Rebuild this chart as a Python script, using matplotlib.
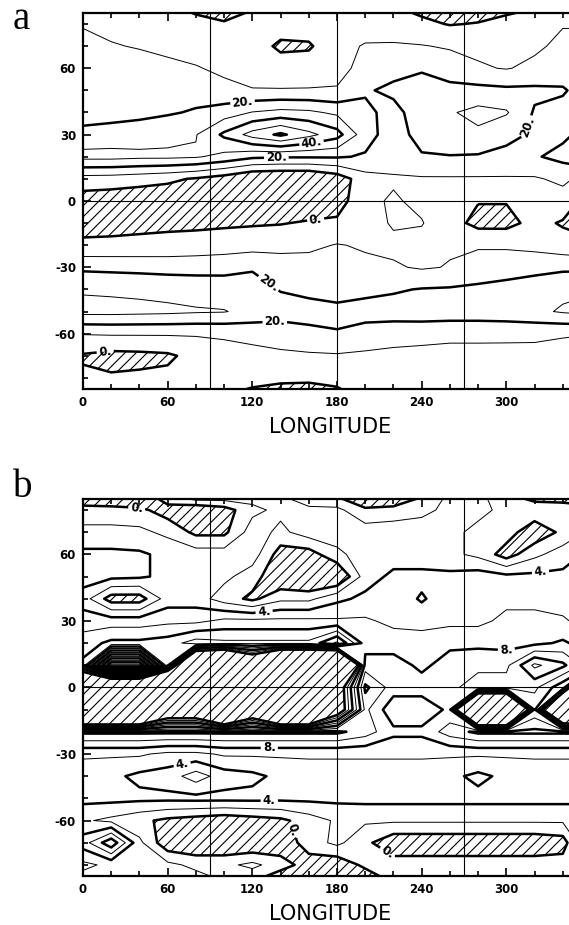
import numpy as np
import matplotlib.pyplot as plt

plt.rcParams['axes.unicode_minus'] = False
plt.rcParams['hatch.linewidth'] = 0.8

# ============================================================
# Grid
# ============================================================
LON = np.arange(0, 361, 20)
LAT = np.array([85, 80, 70, 60, 50, 40, 30, 20, 10, 0,
                -10, -20, -30, -40, -50, -60, -70, -80, -85])

# panel a : one row per latitude, one column per longitude
FIELD_A = np.array([
    [6, 5, 4, 3, -0.5, -3, 1, 4, 5, 5, 4, 2, -1, -3, -3, -1, 2, 5, 6],
    [9.5, 8, 6.5, 5, 3, 1, 3, 5, 6, 7, 7, 5, 2, -0.5, 0.5, 4, 7, 9.5, 9.5],
    [12, 10.5, 9.5, 8, 7, 6, 5, -2, -1.5, 8, 10.5, 11, 10.5, 9, 8, 8, 8.5, 12, 12],
    [14, 13.5, 13, 12, 10.5, 8.5, 6, 5, 6, 8, 12, 17, 19, 15, 11, 9.5, 12, 15, 14],
    [15, 15.5, 16, 16.5, 16, 12, 10.5, 10.5, 10.5, 10.5, 19, 22, 24, 23, 23, 22, 22, 21, 15],
    [14, 15.5, 17, 19, 21, 25, 30.5, 33, 32, 28, 22, 17, 25, 29, 33, 31, 19, 17, 14],
    [24, 25, 26, 27, 29.5, 42, 54, 62, 53, 44, 24, 15, 24, 27, 28, 22, 19, 18, 24],
    [33, 33, 32, 32, 31, 27, 22, 21, 21, 21, 19, 14, 19, 19.5, 19, 18, 19, 23, 33],
    [6, 5.5, 4, 2, -1, -5, -11, -12, -12, -6, 6, 9, 9, 9, 9, 9, 9, 12, 6],
    [-5, -6, -7, -7, -7, -7, -7, -7, -7, -5, 8, 11, 8, 4, 0.5, 0.5, 4, 6, -5],
    [-3, -3, -2.5, -2, -2, -1.5, -1, -0.5, 1, 2, 6, 11, 10.5, 4, -3, -3, 3, -1, -3],
    [1.6, 2, 2.5, 3, 4, 5, 6, 7, 8, 10.5, 9, 8, 7, 9, 9, 8.5, 7, 4, 1.6],
    [18, 17.5, 17, 16.5, 16.5, 17, 19, 15, 14, 13, 12, 11, 9, 10.5, 14, 16, 17, 18, 18],
    [29, 28.5, 28, 27, 26, 25, 24, 19.5, 18, 17, 18, 19, 20.5, 21, 22, 23, 25, 28, 29],
    [33, 33, 32.5, 32, 31, 30.5, 27, 24, 23, 22, 23, 24, 25, 25, 25, 26, 28, 31, 33],
    [10.5, 11, 11, 11, 11, 11.5, 13, 15, 18, 19.5, 17, 15, 14, 13, 13, 12.5, 12, 11, 10.5],
    [-1, -3, -2.5, -1.5, 3, 6, 7, 8, 8.5, 9, 8, 7, 6.5, 6, 6, 6.5, 7, 6, -1],
    [1.5, 1, 1.5, 2, 3, 4, 3, 2, 1.5, 2, 3, 4, 5, 5, 5, 5, 5, 4, 1.5],
    [3, 3, 3, 3, 3, 2, -0.5, -2, -2, -0.5, 3, 4, 4, 4, 4, 4, 4, 4, 3],
])

# panel b
FIELD_B = np.array([
    [-1.5, -2, -2, 1, 2.5, 2.5, 2.5, 2.5, 1, 0.5, -2, -2, 0.5, 2.5, 2.5, 1, -0.5, -0.5, -1.5],
    [1, 1, 0.5, -1, -2, -1, 1.5, 2.5, 2.5, 2.5, 0.5, 1, 1.5, 2.5, 2.5, 1.5, 1.5, 1, 1],
    [2.5, 2.5, 2.5, 1.5, -0.5, -0.5, 3, 1.5, 3, 3, 3, 3, 3, 2.5, 1.5, 1, -1.5, 0.5, 2.5],
    [4.5, 4.5, 4.3, 3.5, 3, 3, 3, -1, -1, 1.5, 3, 3, 3, 2.5, 1.5, -1, 1.5, 3, 4.5],
    [5, 4.5, 4.3, 3.5, 3, 2.5, 1, -2, -3, -2.5, 3, 4.5, 4.5, 4.5, 5, 4.5, 4.5, 4.5, 5],
    [3, -1, -1, 3, 3, 1, -0.5, 1.5, 1.5, 3.5, 4.5, 5, 3.8, 5, 5, 5.5, 5.5, 5, 3],
    [5, 5, 5, 5.5, 5.5, 6.5, 6.5, 6.5, 6.5, 6.3, 6.3, 5.5, 5, 5.5, 5.5, 6.5, 6.5, 6.3, 5],
    [7, 8.5, 8.5, 9, 11, 10.5, 10.5, 10.5, 10.5, 14.5, 7, 7, 7.3, 7.5, 7.5, 7.3, 7.5, 8.3, 7],
    [8.5, 31, 31, 8.5, -20, -25, -10, -25, -25, -30, 9, 9, 7.5, 9, 9.5, 9.5, 14.5, 12.5, 8.5],
    [-20, -20, -20, -25, -25, -25, -25, -25, -25, -4, 12.5, 9, 9, 9.5, 11, 11, 10.5, 6.5, -20],
    [-25, -25, -25, -8, -8, -25, -8, -25, -25, -4, 10.5, 6.5, 6.5, 8.5, -30, -30, 8.5, -20, -25],
    [12.5, 12.5, 12.5, 12.5, 12.5, 12.5, 12.5, 12.5, 12.5, 12.5, 11, 8.5, 8.5, 11, 12.5, 12.5, 12.5, 12.5, 12.5],
    [6.3, 6.3, 6.3, 5.5, 5.5, 6.3, 6.3, 6.3, 6.3, 6.3, 6.3, 6.3, 6.3, 6.3, 6.3, 6.3, 6.3, 6.3, 6.3],
    [5, 4.5, 3.5, 3, 1, 3, 3.5, 4.5, 5, 5, 5, 5, 5, 4.5, 3.5, 4.5, 5, 5, 5],
    [4.6, 4.6, 4.5, 4.5, 4.6, 4.6, 4.6, 4.5, 4.5, 4.5, 4.6, 4.6, 4.6, 4.6, 4.6, 4.6, 4.6, 4.6, 4.6],
    [2.3, 1.5, 0.5, -0.5, -1, -1.5, -1, -0.5, 1, 2.3, 2.3, 2.3, 2.3, 2.3, 2.3, 2.3, 2.3, 2.3, 2.3],
    [5, 9.5, 2.5, -1.5, -2, -2, -2, -1.5, 1, 2.5, 0.5, -1.5, -1.5, -1.5, -1.5, -1.5, -1.5, -1, 5],
    [1.5, 2.5, 2.5, 2.5, 1.5, 1.5, 2.5, 1, -1, -1.5, 0.5, 1, 1, 1, 1, 1, 1, 1, 1.5],
    [2.5, 2.5, 2.5, 2.5, 2.5, 1.5, 1, -1, -2, -2, -1, 1, 1.5, 1.5, 1.5, 1.5, 1.5, 1.5, 2.5],
])

THIN_A = [10, 30, 50]
THICK_A = [0, 20, 40, 60]
THIN_B = list(range(2, 40, 4))
THICK_B = list(range(0, 40, 4))

# where the inline labels sit (lon, lat)
LABELS_A = [(113, 45), (162, 26), (137, 20), (165, -9), (135, -34),
            (136, -56), (16, -70), (312, 34)]
LABELS_B = [(38, 80), (128, 36), (324, 53), (300, 16), (132, -26),
            (72, -40), (132, -51), (215, -75), (150, -64)]

XTICKS = [0, 60, 120, 180, 240, 300, 360]
XTICKLABELS = ['0', '60', '120', '180', '240', '300', '']
YTICKS = [-60, -30, 0, 30, 60]


# ============================================================
# Drawing
# ============================================================
def draw_panel(ax, field, thin, thick, labels):
    ax.contourf(LON, LAT, field, levels=[-1000, 0], colors='none',
                hatches=['///'])
    ax.contour(LON, LAT, field, levels=thin, colors='k', linewidths=0.7)
    cs = ax.contour(LON, LAT, field, levels=thick, colors='k',
                    linewidths=1.8)
    txt = ax.clabel(cs, fmt='%1.0f.', fontsize=8.5, manual=labels,
                    inline=True, inline_spacing=3)
    for t in txt:
        t.set_fontweight('bold')

    for x in (90, 180, 270):
        ax.axvline(x, color='k', lw=0.8)
    ax.axhline(0, color='k', lw=0.8)

    ax.set_xlim(0, 360)
    ax.set_ylim(-85, 85)
    ax.set_xticks(XTICKS)
    ax.set_xticklabels(XTICKLABELS)
    ax.set_xticks(np.arange(0, 361, 20), minor=True)
    ax.set_yticks(YTICKS)
    ax.set_yticks(np.arange(-80, 81, 10), minor=True)
    ax.tick_params(which='both', direction='in', top=True, right=True,
                   width=1.2)
    ax.tick_params(which='major', length=6, labelsize=8.5, pad=5)
    ax.tick_params(which='minor', length=3.5)
    for lab in ax.get_xticklabels() + ax.get_yticklabels():
        lab.set_fontweight('bold')
    for s in ax.spines.values():
        s.set_linewidth(1.6)
    ax.set_xlabel('LONGITUDE', fontsize=15, labelpad=3)
    ax.xaxis.set_label_coords(0.486, -0.075)


fig = plt.figure(figsize=(5.69, 9.25), dpi=100)
ax_a = fig.add_axes([0.1459, 0.5795, 0.8928, 0.4065])
ax_b = fig.add_axes([0.1459, 0.0530, 0.8928, 0.4076])

draw_panel(ax_a, FIELD_A, THIN_A, THICK_A, LABELS_A)
draw_panel(ax_b, FIELD_B, THIN_B, THICK_B, LABELS_B)

fig.text(0.023, 0.9686, 'a', fontsize=28, family='Liberation Serif',
         va='baseline')
fig.text(0.023, 0.4627, 'b', fontsize=28, family='Liberation Serif',
         va='baseline')

fig.savefig('out.png', dpi=100)
